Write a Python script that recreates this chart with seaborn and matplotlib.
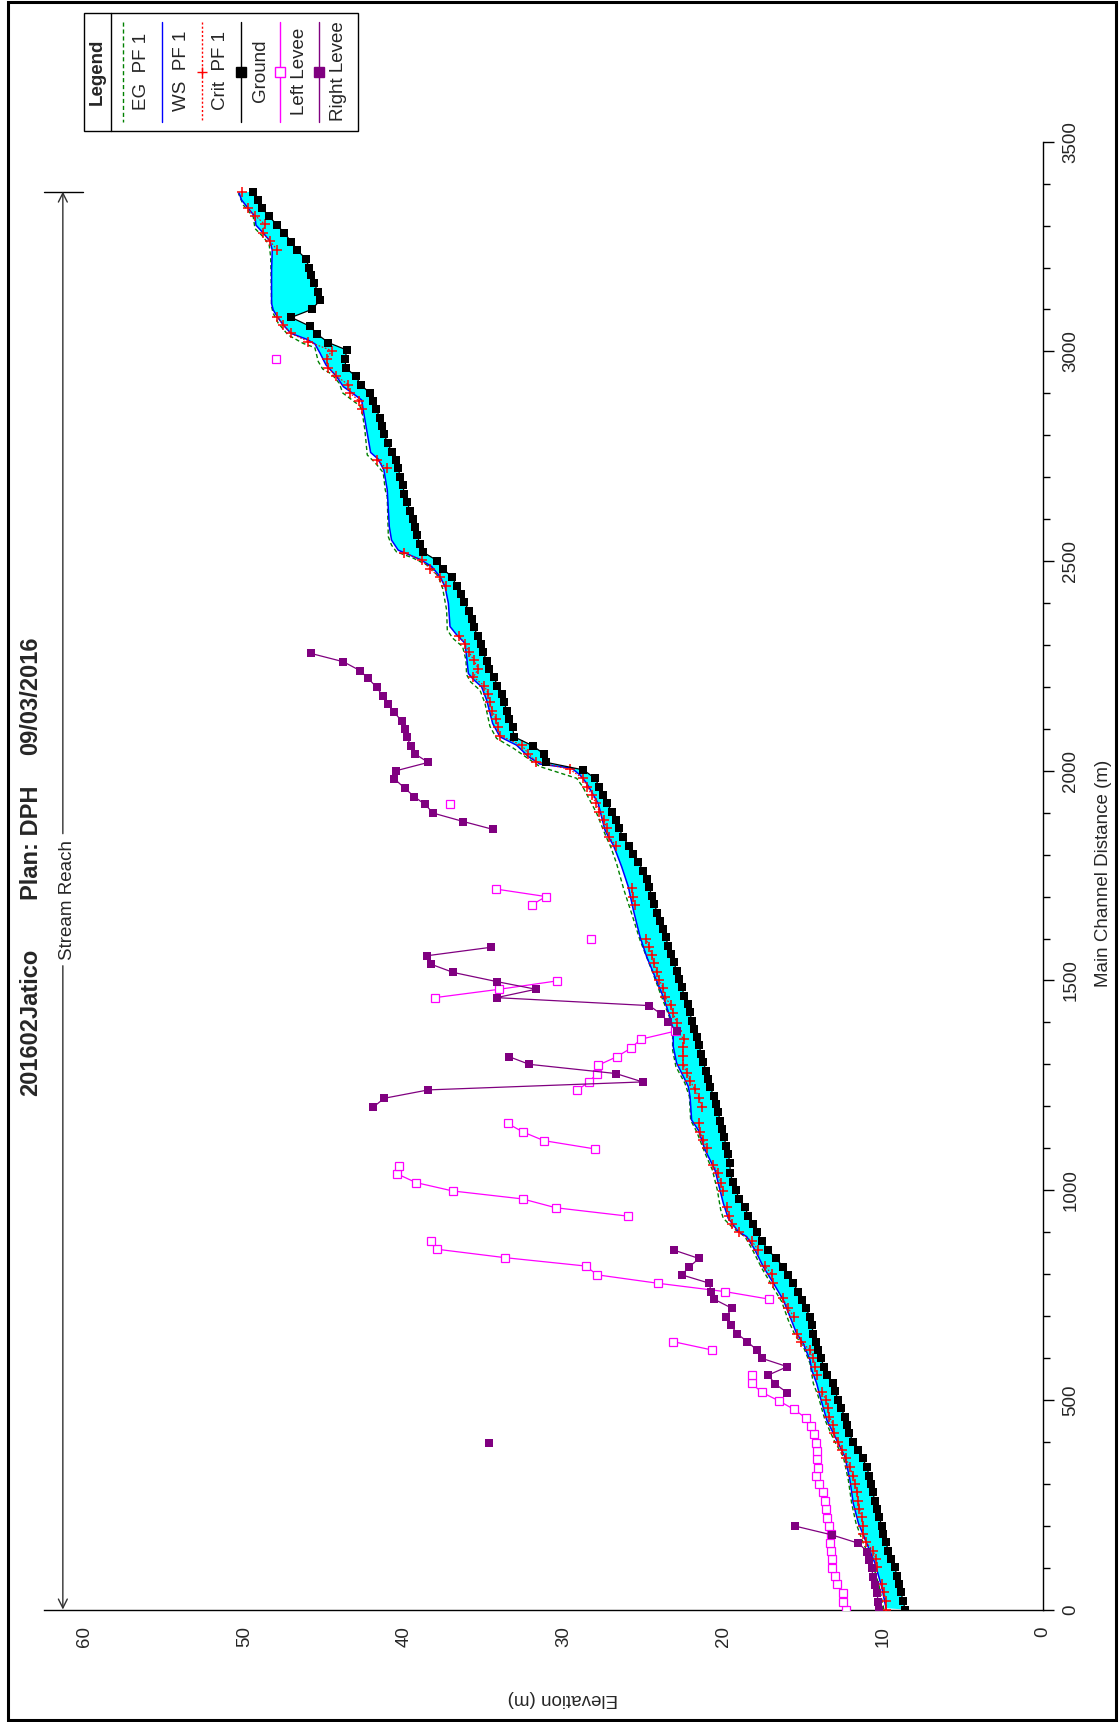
import numpy as np
import pandas as pd
import matplotlib
matplotlib.use("Agg")
import matplotlib.pyplot as plt
from matplotlib.lines import Line2D
from matplotlib.patches import Rectangle
from matplotlib.ticker import FixedLocator
import seaborn as sns

# ---------------- profile data (main channel distance in m, elevation in m) ----------------
ground_dist = [0, 21, 41, 61, 81, 101, 120, 140, 160, 180, 200, 220, 240, 259, 279, 299, 319, 339,
               361, 380, 400, 420, 440, 460, 480, 500, 520, 539, 559, 579, 599, 619, 639, 658, 678,
               698, 718, 738, 758, 778, 798, 817, 837, 857, 879, 899, 919, 939, 959, 978, 1000, 1020,
               1040, 1064, 1086, 1106, 1126, 1146, 1166, 1186, 1205, 1225, 1245, 1265, 1285, 1305,
               1325, 1345, 1364, 1384, 1404, 1424, 1444, 1464, 1484, 1504, 1523, 1543, 1563, 1583,
               1603, 1623, 1642, 1662, 1682, 1702, 1722, 1742, 1762, 1782, 1801, 1821, 1841, 1863,
               1883, 1902, 1922, 1942, 1962, 1982, 2002, 2020, 2040, 2059, 2081, 2104, 2123, 2143,
               2163, 2183, 2203, 2223, 2243, 2262, 2282, 2302, 2322, 2342, 2362, 2382, 2402, 2421,
               2441, 2461, 2481, 2501, 2522, 2541, 2561, 2581, 2600, 2620, 2640, 2660, 2681, 2701,
               2721, 2741, 2760, 2782, 2802, 2822, 2842, 2862, 2882, 2901, 2921, 2941, 2960, 2981,
               3003, 3021, 3041, 3060, 3081, 3100, 3122, 3142, 3162, 3181, 3200, 3221, 3242, 3262,
               3282, 3301, 3323, 3341, 3361, 3381]
ground_elev = [8.64, 8.75, 8.91, 9.00, 9.16, 9.27, 9.54, 9.69, 9.83, 10.00, 10.10, 10.25, 10.41, 10.52,
               10.66, 10.79, 10.87, 11.04, 11.29, 11.56, 11.88, 12.13, 12.29, 12.40, 12.65, 12.82,
               13.02, 13.17, 13.54, 13.72, 13.90, 14.07, 14.23, 14.38, 14.48, 14.59, 14.84, 15.11,
               15.33, 15.64, 15.95, 16.26, 16.72, 17.20, 17.61, 17.89, 18.14, 18.45, 18.66, 19.02,
               19.22, 19.43, 19.58, 19.60, 19.71, 19.85, 19.96, 20.12, 20.23, 20.33, 20.48, 20.60,
               20.85, 20.95, 21.10, 21.27, 21.41, 21.52, 21.68, 21.83, 22.00, 22.10, 22.21, 22.46,
               22.62, 22.77, 22.94, 23.11, 23.29, 23.46, 23.63, 23.77, 23.98, 24.15, 24.34, 24.50,
               24.65, 24.82, 25.03, 25.34, 25.69, 25.90, 26.30, 26.53, 26.76, 27.01, 27.28, 27.53,
               27.78, 28.05, 28.78, 31.10, 31.25, 31.92, 33.12, 33.21, 33.42, 33.58, 33.73, 33.90,
               34.17, 34.36, 34.67, 34.83, 35.05, 35.19, 35.40, 35.63, 35.77, 35.94, 36.24, 36.46,
               36.71, 36.99, 37.55, 37.93, 38.84, 39.01, 39.18, 39.30, 39.47, 39.64, 39.80, 39.99,
               40.08, 40.25, 40.37, 40.53, 40.78, 41.03, 41.26, 41.39, 41.53, 41.74, 41.93, 42.16,
               42.73, 43.04, 43.64, 43.71, 43.58, 44.75, 45.44, 45.90, 47.07, 45.79, 45.25, 45.40,
               45.63, 45.82, 45.94, 46.17, 46.71, 47.07, 47.51, 47.94, 48.49, 48.88, 49.18, 49.45]

ws_dist = [3, 54, 110, 158, 206, 253, 309, 364, 412, 452, 508, 539, 571, 595, 634, 658, 698, 738,
           778, 817, 857, 889, 901, 933, 969, 1024, 1048, 1056, 1096, 1143, 1167, 1223, 1247, 1271,
           1303, 1342, 1382, 1414, 1461, 1509, 1557, 1604, 1668, 1724, 1771, 1803, 1823, 1843, 1859,
           1922, 1970, 1990, 2006, 2016, 2034, 2061, 2081, 2113, 2168, 2200, 2218, 2232, 2272, 2304,
           2324, 2344, 2399, 2439, 2463, 2487, 2504, 2526, 2550, 2582, 2670, 2717, 2743, 2759, 2813,
           2860, 2884, 2899, 2916, 2940, 2968, 2996, 3018, 3029, 3043, 3063, 3083, 3099, 3114, 3194,
           3242, 3263, 3282, 3301, 3321, 3341, 3361, 3378]
ws_elev = [9.83, 10.10, 10.52, 11.04, 11.56, 11.88, 12.09, 12.40, 13.02, 13.54, 13.96, 14.17, 14.48,
           14.59, 15.01, 15.43, 15.84, 16.26, 16.88, 17.51, 18.03, 18.55, 19.08, 19.71, 20.02, 20.38,
           20.54, 20.64, 21.16, 21.58, 22.00, 22.10, 22.21, 22.52, 22.94, 23.15, 23.15, 23.36, 23.78,
           24.30, 24.82, 25.23, 25.65, 25.97, 26.38, 26.70, 26.91, 27.22, 27.43, 27.85, 28.57, 28.99,
           29.51, 31.50, 32.23, 32.96, 34.00, 34.46, 34.83, 35.15, 35.67, 35.98, 36.09, 36.19, 36.71,
           37.13, 37.23, 37.44, 37.76, 38.28, 39.01, 40.37, 40.79, 40.93, 41.06, 41.27, 41.62, 42.10,
           42.35, 42.56, 42.66, 43.19, 43.81, 44.23, 44.90, 45.27, 45.59, 46.11, 47.09, 47.57, 47.95,
           48.20, 48.30, 48.30, 48.26, 48.40, 48.82, 49.28, 49.34, 49.76, 50.18, 50.34]

eg_dist = [0, 54, 110, 158, 206, 253, 309, 364, 404, 452, 508, 539, 587, 627, 655, 690, 734, 774,
           814, 857, 889, 909, 933, 953, 1000, 1048, 1088, 1139, 1167, 1223, 1255, 1294, 1334, 1374,
           1414, 1461, 1525, 1596, 1660, 1716, 1779, 1819, 1843, 1859, 1899, 1962, 1982, 2010, 2026,
           2054, 2077, 2106, 2161, 2192, 2212, 2229, 2264, 2296, 2316, 2336, 2383, 2435, 2463, 2487,
           2507, 2522, 2538, 2558, 2654, 2669, 2711, 2735, 2753, 2813, 2848, 2870, 2882, 2901, 2924,
           2946, 2958, 2976, 3009, 3019, 3039, 3067, 3091, 3107, 3194, 3226, 3254, 3273, 3293, 3321,
           3349, 3377]
eg_elev = [9.96, 10.25, 10.67, 11.25, 11.71, 11.98, 12.19, 12.50, 13.09, 13.65, 14.07, 14.38, 14.59,
           15.01, 15.53, 15.95, 16.36, 16.99, 17.61, 18.18, 18.66, 19.39, 20.02, 20.18, 20.39, 20.70,
           21.16, 21.68, 22.06, 22.14, 22.42, 22.98, 23.19, 23.19, 23.40, 23.88, 24.50, 25.23, 25.76,
           26.24, 26.70, 27.07, 27.36, 27.53, 27.95, 28.82, 29.20, 31.50, 32.12, 33.17, 34.21, 34.63,
           34.94, 35.25, 35.84, 36.09, 36.13, 36.34, 36.96, 37.30, 37.34, 37.59, 37.86, 38.38, 39.43,
           40.48, 40.79, 40.99, 41.06, 41.18, 41.31, 41.83, 42.31, 42.46, 42.60, 42.77, 43.19, 43.85,
           44.06, 44.54, 45.10, 45.38, 45.59, 46.32, 47.26, 47.88, 48.20, 48.30, 48.34, 48.36, 48.45,
           48.82, 49.34, 49.45, 50.07, 50.38]

crit_dist = [0, 21, 41, 61, 101, 120, 140, 160, 180, 200, 220, 240, 259, 279, 299, 319, 339, 361,
             380, 400, 420, 440, 460, 480, 500, 519, 559, 579, 599, 619, 639, 658, 698, 718, 742,
             778, 800, 819, 857, 879, 899, 919, 938, 959, 999, 1018, 1040, 1060, 1100, 1120, 1139,
             1159, 1199, 1220, 1240, 1261, 1280, 1298, 1320, 1341, 1360, 1380, 1399, 1422, 1441,
             1461, 1481, 1501, 1521, 1541, 1561, 1580, 1600, 1680, 1700, 1720, 1821, 1843, 1863,
             1883, 1902, 1922, 1942, 1962, 1982, 2003, 2022, 2041, 2061, 2084, 2104, 2123, 2143,
             2163, 2183, 2203, 2223, 2243, 2263, 2282, 2302, 2322, 2441, 2461, 2481, 2503, 2520,
             2721, 2741, 2862, 2881, 2901, 2921, 2941, 2961, 2981, 3002, 3023, 3043, 3063, 3083,
             3242, 3263, 3282, 3303, 3324, 3341, 3381]
crit_elev = [9.80, 9.83, 9.96, 10.10, 10.38, 10.46, 10.63, 11.08, 11.25, 11.29, 11.35, 11.49, 11.56,
             11.63, 11.77, 11.88, 12.09, 12.34, 12.61, 12.82, 13.09, 13.13, 13.38, 13.44, 13.59, 13.86,
             14.13, 14.28, 14.38, 14.59, 15.17, 15.38, 15.59, 15.95, 16.30, 16.88, 16.99, 17.41, 17.83,
             18.24, 19.02, 19.49, 19.64, 19.81, 20.02, 20.18, 20.36, 20.64, 21.06, 21.27, 21.48, 21.52,
             21.37, 21.52, 21.79, 22.10, 22.31, 22.52, 22.52, 22.56, 22.48, 22.94, 22.94, 23.15, 23.31,
             23.67, 23.77, 24.02, 24.19, 24.36, 24.50, 24.65, 24.86, 25.55, 25.69, 25.76, 26.74, 27.19,
             27.32, 27.49, 27.78, 27.99, 28.26, 28.53, 28.82, 29.62, 31.75, 32.23, 32.64, 34.00, 34.15,
             34.25, 34.48, 34.63, 34.73, 34.98, 35.67, 35.36, 35.63, 35.92, 36.19, 36.55, 37.40, 37.76,
             38.38, 38.91, 40.01, 41.10, 41.68, 42.66, 42.81, 43.39, 43.49, 44.27, 44.75, 44.85, 44.54,
             46.00, 47.09, 47.57, 47.95, 47.95, 48.40, 48.85, 48.72, 49.34, 49.80, 50.18]

nan = np.nan
left_levee_dist = [0, 19, 40, 60, 80, 100, 120, 139, 159, 179, 199, 219, 239, 259, 279, 299, 318, 338,
                   358, 378, 398, 418, 438, 457, 477, 497, 518, 539, 559, nan,
                   619, 639, nan,
                   740, 758, 778, 798, 819, 839, 859, 879, nan,
                   938, 958, 979, 998, 1018, 1039, 1058, nan,
                   1098, 1118, 1139, 1159, nan,
                   1239, 1258, 1278, 1298, 1318, 1338, 1360, 1379, nan,
                   1459, 1479, 1499, nan,
                   1599, nan,
                   1680, 1700, 1718, nan,
                   1920, nan,
                   2981]
left_levee_elev = [12.35, 12.50, 12.54, 12.92, 13.02, 13.23, 13.23, 13.29, 13.34, 13.29, 13.38, 13.54,
                   13.59, 13.65, 13.75, 14.00, 14.21, 14.07, 14.13, 14.17, 14.21, 14.32, 14.53, 14.86,
                   15.59, 16.51, 17.61, 18.24, 18.24, nan,
                   20.75, 23.19, nan,
                   17.14, 19.91, 24.13, 27.91, 28.64, 33.69, 37.93, 38.34, nan,
                   26.00, 30.51, 32.58, 36.96, 39.26, 40.45, 40.33, nan,
                   28.02, 31.25, 32.58, 33.52, nan,
                   29.16, 28.41, 27.95, 27.84, 26.69, 25.82, 25.17, 23.04, nan,
                   38.07, 34.03, 30.41, nan,
                   28.32, nan,
                   32.02, 31.12, 34.27, nan,
                   37.13, nan,
                   48.05]

right_levee_dist = [0, 19, 39, 58, 78, 98, 118, 138, 158, 178, 199, nan,
                    398, nan,
                    517, 538, 559, 579, 599, 619, 639, 657, 678, 698, 718, 740, 758, 778, 798, 817,
                    837, 857, nan,
                    1198, 1219, 1239, 1258, 1278, 1300, 1318, nan,
                    1380, 1400, 1420, 1440, 1459, 1479, 1497, 1519, 1539, 1559, 1579, nan,
                    1860, 1879, 1899, 1920, 1938, 1958, 1981, 2000, 2020, 2040, 2060, 2080, 2099,
                    2119, 2139, 2159, 2179, 2199, 2220, 2239, 2260, 2280]
right_levee_elev = [10.25, 10.31, 10.41, 10.52, 10.63, 10.73, 10.87, 11.00, 11.56, 13.23, 15.53, nan,
                    34.67, nan,
                    16.01, 16.78, 17.20, 16.01, 17.61, 17.93, 18.52, 19.14, 19.54, 19.87, 19.46,
                    20.60, 20.79, 20.89, 22.62, 22.15, 21.54, 23.11, nan,
                    41.93, 41.25, 38.49, 25.07, 26.74, 32.17, 33.42, nan,
                    22.94, 23.46, 23.92, 24.65, 34.21, 31.75, 34.17, 36.92, 38.34, 38.55, 34.58, nan,
                    34.42, 36.30, 38.18, 38.70, 39.36, 39.95, 40.62, 40.51, 38.49, 39.32, 39.57,
                    39.85, 39.95, 40.16, 40.62, 40.99, 41.35, 41.72, 42.25, 42.77, 43.81, 45.86]

elev_ticks = [0, 10, 20, 30, 40, 50, 60]
dist_ticks = [0, 500, 1000, 1500, 2000, 2500, 3000, 3500]

title_parts = ["201602Jatico", "Plan: DPH", "09/03/2016"]
reach_name = "Stream Reach"
legend_labels = ["EG  PF 1", "WS  PF 1", "Crit  PF 1", "Ground", "Left Levee", "Right Levee"]

# ---------------- helpers ----------------
def split_on_nan(dist, elev):
    d = np.asarray(dist, float)
    e = np.asarray(elev, float)
    gap = np.isnan(d) | np.isnan(e)
    seg = np.cumsum(gap)
    return pd.DataFrame({"elev": e[~gap], "dist": d[~gap], "seg": seg[~gap]})


def split_on_gap(dist, elev, max_gap=30):
    d = np.asarray(dist, float)
    e = np.asarray(elev, float)
    seg = np.concatenate([[0], np.cumsum(np.diff(d) > max_gap)])
    return pd.DataFrame({"elev": e, "dist": d, "seg": seg})


# ---------------- figure ----------------
W, H = 1120, 1722
sns.set_style("white")
plt.rcParams["font.family"] = ["Liberation Sans", "DejaVu Sans"]

fig = plt.figure(figsize=(W / 100, H / 100), dpi=100)


def fx(x):
    return x / W


def fy(y):
    return 1 - y / H


ax = fig.add_axes([fx(44), fy(1609.5), (1043 - 44) / W, (1609.5 - 141.7) / H])
ax.set_xlim(62.55, 0)
ax.set_ylim(0, 3500)

GREEN, BLUE, RED = "#008000", "#0000FF", "#FF0000"
MAGENTA, PURPLE, CYAN = "#FF00FF", "#800080", "#00FFFF"

# water between water surface and channel bed
poly_x = np.concatenate([ws_elev, ground_elev[::-1]])
poly_y = np.concatenate([ws_dist, ground_dist[::-1]])
ax.fill(poly_x, poly_y, color=CYAN, lw=0, zorder=1)

eg = pd.DataFrame({"elev": eg_elev, "dist": eg_dist})
sns.lineplot(data=eg, x="elev", y="dist", sort=False, orient="y", estimator=None,
             color=GREEN, lw=1.0, ax=ax, zorder=2)
ax.lines[-1].set_dashes((3, 2))

ws = pd.DataFrame({"elev": ws_elev, "dist": ws_dist})
sns.lineplot(data=ws, x="elev", y="dist", sort=False, orient="y", estimator=None,
             color=BLUE, lw=1.1, ax=ax, zorder=3)

crit = split_on_gap(crit_dist, crit_elev)
n0 = len(ax.lines)
sns.lineplot(data=crit, x="elev", y="dist", units="seg", sort=False, orient="y", estimator=None,
             color=RED, lw=0.8, marker="+", markersize=7, markeredgewidth=1.1,
             markeredgecolor=RED, markerfacecolor=RED, ax=ax, zorder=4)
for ln in ax.lines[n0:]:
    ln.set_dashes((1.5, 1.5))

ground = pd.DataFrame({"elev": ground_elev, "dist": ground_dist})
sns.lineplot(data=ground, x="elev", y="dist", sort=False, orient="y", estimator=None,
             color="black", lw=0.9, marker="s", markersize=5.8, markerfacecolor="black",
             markeredgecolor="black", markeredgewidth=0, ax=ax, zorder=5)

left = split_on_nan(left_levee_dist, left_levee_elev)
sns.lineplot(data=left, x="elev", y="dist", units="seg", sort=False, orient="y", estimator=None,
             color=MAGENTA, lw=0.9, marker="s", markersize=5.5, markerfacecolor="white",
             markeredgecolor=MAGENTA, markeredgewidth=0.9, ax=ax, zorder=6)

right = split_on_nan(right_levee_dist, right_levee_elev)
sns.lineplot(data=right, x="elev", y="dist", units="seg", sort=False, orient="y", estimator=None,
             color=PURPLE, lw=0.9, marker="s", markersize=5.6, markerfacecolor=PURPLE,
             markeredgecolor=PURPLE, markeredgewidth=0, ax=ax, zorder=7)

# reach extent marker along the top of the profile
reach_x = 61.37
reach_end = max(ground_dist)
arrow = dict(arrowstyle="->", lw=1.0, color="#303030", shrinkA=0, shrinkB=0, mutation_scale=16)
ax.annotate("", xy=(reach_x, 0), xytext=(reach_x, 1535), arrowprops=arrow, annotation_clip=False)
ax.annotate("", xy=(reach_x, reach_end), xytext=(reach_x, 1850), arrowprops=arrow,
            annotation_clip=False)
ax.plot([62.55, 60.1], [reach_end, reach_end], color="black", lw=1.0, clip_on=False)
ax.text(61.1, 1692, reach_name, rotation=90, ha="center", va="center", fontsize=13.5)

# axes styling
for side in ["top", "left"]:
    ax.spines[side].set_visible(False)
for side in ["bottom", "right"]:
    ax.spines[side].set_color("black")
    ax.spines[side].set_linewidth(1.0)
ax.yaxis.tick_right()
ax.set_xticks(elev_ticks)
ax.set_yticks(dist_ticks)
ax.xaxis.set_minor_locator(FixedLocator([v for v in range(2, 60, 2) if v % 10]))
ax.yaxis.set_minor_locator(FixedLocator([v for v in range(100, 3500, 100) if v % 500]))
ax.tick_params(axis="both", which="major", direction="out", length=8, width=1, color="black",
               labelsize=13.5, pad=4)
ax.tick_params(axis="both", which="minor", direction="out", length=5, width=1, color="black")
ax.tick_params(axis="y", which="major", pad=6)
ax.set_xticklabels([str(v) for v in elev_ticks], rotation=90, ha="center", va="top")
ax.set_yticklabels([str(v) for v in dist_ticks], rotation=90, ha="left", va="center")
ax.set_xlabel("")
ax.set_ylabel("")
ax.grid(False)

fig.text(fx(563), fy(1699), "Elevation (m)", rotation=180, ha="center", va="center", fontsize=13.5)
fig.text(fx(1103), fy(873), "Main Channel Distance (m)", rotation=90, ha="center", va="center",
         fontsize=13.5)

# title (runs along the left edge)
for txt, yc in zip(title_parts, [1022, 843, 696]):
    fig.text(fx(31), fy(yc), txt, rotation=90, ha="center", va="center", fontsize=17,
             fontweight="bold")

# legend box
fig.add_artist(Rectangle((fx(84), fy(131)), (358 - 84) / W, (131 - 13) / H, transform=fig.transFigure,
                         fill=False, edgecolor="black", lw=1.0))
fig.add_artist(Line2D([fx(111), fx(111)], [fy(13), fy(131)], transform=fig.transFigure,
                      color="black", lw=1.0))
fig.text(fx(97.5), fy(72), "Legend", rotation=90, ha="center", va="center", fontsize=13.5,
         fontweight="bold")
legend_styles = [
    dict(color=GREEN, ls=(0, (3, 2)), marker=None),
    dict(color=BLUE, ls="-", marker=None),
    dict(color=RED, ls=(0, (1.5, 1.5)), marker="+", mfc=RED, mec=RED),
    dict(color="black", ls="-", marker="s", mfc="black", mec="black"),
    dict(color=MAGENTA, ls="-", marker="s", mfc="white", mec=MAGENTA),
    dict(color=PURPLE, ls="-", marker="s", mfc=PURPLE, mec=PURPLE),
]
legend_x = [123, 162, 201.7, 241, 280, 319.3]
for lx, lab, st in zip(legend_x, legend_labels, legend_styles):
    fig.add_artist(Line2D([fx(lx), fx(lx)], [fy(22), fy(122)], transform=fig.transFigure,
                          color=st["color"], ls=st["ls"], lw=1.0))
    if st["marker"]:
        fig.add_artist(Line2D([fx(lx)], [fy(72)], transform=fig.transFigure, ls="none",
                              marker=st["marker"], markersize=6.5, markerfacecolor=st["mfc"],
                              markeredgecolor=st["mec"], markeredgewidth=1.0))
    fig.text(fx(lx + 19), fy(71), lab, rotation=90, ha="center", va="center", fontsize=13.5)

# page frame
fig.add_artist(Rectangle((fx(7.5), fy(1720)), (1116 - 7.5) / W, (1720 - 2) / H,
                         transform=fig.transFigure, fill=False, edgecolor="black", lw=2.2))

fig.savefig("out.png", dpi=100)
